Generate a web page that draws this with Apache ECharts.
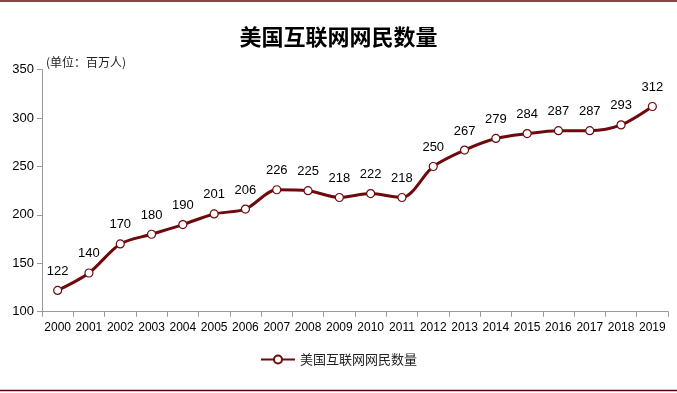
<!DOCTYPE html>
<html><head><meta charset="utf-8">
<script src="https://cdn.jsdelivr.net/npm/echarts@6/dist/echarts.min.js"></script>
<style>html,body{margin:0;padding:0;background:#fff}#c{width:677px;height:393px}</style>
</head><body><div id="c"></div>
<script>
var years = ['2000','2001','2002','2003','2004','2005','2006','2007','2008','2009','2010','2011','2012','2013','2014','2015','2016','2017','2018','2019'];
var users = [122,140,170,180,190,201,206,226,225,218,222,218,250,267,279,284,287,287,293,312];
var seriesName = '美国互联网网民数量';
var titleText = '美国互联网网民数量';
var unitText = '(单位：百万人)';
var red = '#6e0a0e';
var chart = echarts.init(document.getElementById('c'));
chart.setOption({
  animation: false,
  title: {text: titleText, left: 'center', top: 21,
    textStyle: {fontFamily: 'Noto Sans CJK SC', fontSize: 22, fontWeight: 'bold', color: '#000'}},
  graphic: [
    {type: 'line', shape: {x1: 0, y1: 1, x2: 677, y2: 1}, style: {stroke: '#5a0a0a', lineWidth: 1.5}},
    {type: 'line', shape: {x1: 0, y1: 390.5, x2: 677, y2: 390.5}, style: {stroke: '#5a0a0a', lineWidth: 1.5}},
    {type: 'text', left: 46, top: 56, style: {text: unitText, font: '12px "Noto Sans CJK SC"', fill: '#222'}}
  ],
  legend: {bottom: 22, left: 'center', itemWidth: 34, itemHeight: 10, itemGap: 5,
    textStyle: {fontFamily: 'Noto Sans CJK SC', fontSize: 13, color: '#222'},
    data: [seriesName]},
  grid: {left: 42, right: 9, top: 69.7, bottom: 81.3},
  xAxis: {type: 'category', data: years, boundaryGap: true,
    axisLine: {lineStyle: {color: '#999'}},
    axisTick: {show: true, interval: 0, lineStyle: {color: '#999'}},
    axisLabel: {interval: 0, color: '#000', fontSize: 12, fontFamily: 'Liberation Sans', margin: 10}},
  yAxis: {type: 'value', min: 100, max: 350, interval: 50,
    splitLine: {show: false},
    axisLine: {show: true, lineStyle: {color: '#999'}},
    axisTick: {show: true, lineStyle: {color: '#999'}},
    axisLabel: {color: '#000', fontSize: 13, fontFamily: 'Liberation Sans', margin: 8}},
  series: [{
    name: seriesName, type: 'line', data: users, smooth: 0.3,
    symbol: 'circle', symbolSize: 8,
    lineStyle: {color: red, width: 3},
    itemStyle: {color: '#fff', borderColor: red, borderWidth: 1.2},
    label: {show: true, position: 'top', distance: 8, color: '#000', fontSize: 13, fontFamily: 'Liberation Sans'}
  }]
});
</script></body></html>
